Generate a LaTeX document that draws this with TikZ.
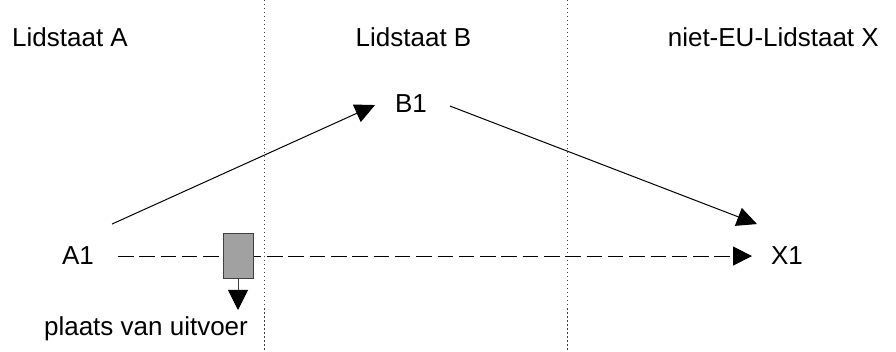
\documentclass[tikz,border=0pt]{standalone}
\usepackage{fontspec}
\setmainfont{Liberation Sans}
\usetikzlibrary{arrows.meta}
\tikzset{
  lbl/.style={inner sep=0pt, anchor=base, font=\fontsize{26}{30}\selectfont},
  conn/.style={line width=1pt, -{Triangle[length=20pt,width=19pt]}},
  dashconn/.style={line width=1pt, dash pattern=on 15.5pt off 5.8pt, -{Triangle[length=19pt,width=19pt]}},
  border/.style={line width=1pt, color=black!75, dash pattern=on 1.5pt off 2.5pt},
  exitbox/.style={draw=black!75, line width=1pt, fill=black!37, minimum width=30pt, minimum height=45pt, inner sep=0pt},
}
\begin{document}
\begin{tikzpicture}[x=1pt,y=-1pt]
\useasboundingbox (0,0) rectangle (896,352);
% borders
\coordinate (b1t) at (264.5,0);
\coordinate (b1b) at (264.5,352);
\coordinate (b2t) at (567,0);
\coordinate (b2b) at (567,352);
\draw[border] (b1t) -- (b1b);
\draw[border] (b2t) -- (b2b);
% headings
\node[lbl] (hA) at (70,47) {Lidstaat A};
\node[lbl] (hB) at (413.5,47) {Lidstaat B};
\node[lbl, anchor=base east] (hX) at (879,47) {niet-EU-Lidstaat X};
% places
\node[lbl] (A1) at (78,265) {A1};
\node[lbl] (B1) at (411,113) {B1};
\node[lbl] (X1) at (787,265) {X1};
\node[lbl] (pl) at (146,335) {plaats van uitvoer};
% connectors
\draw[conn] ([shift={(34,-32)}]A1.center) -- ([shift={(-36,1)}]B1.center);
\draw[conn] ([shift={(39,2)}]B1.center) -- ([shift={(-30,-32)}]X1.center);
\draw[dashconn] ([shift={(40,0)}]A1.center) -- ([shift={(-35,0)}]X1.center);
% exit box
\node[exitbox] (box) at (238,256.5) {};
\coordinate (boxtip) at (238,310);
\draw[line width=1pt, color=black!75, -{Triangle[length=20pt,width=20pt,fill=black,color=black]}] (box.south) -- (boxtip);
\end{tikzpicture}
\end{document}
